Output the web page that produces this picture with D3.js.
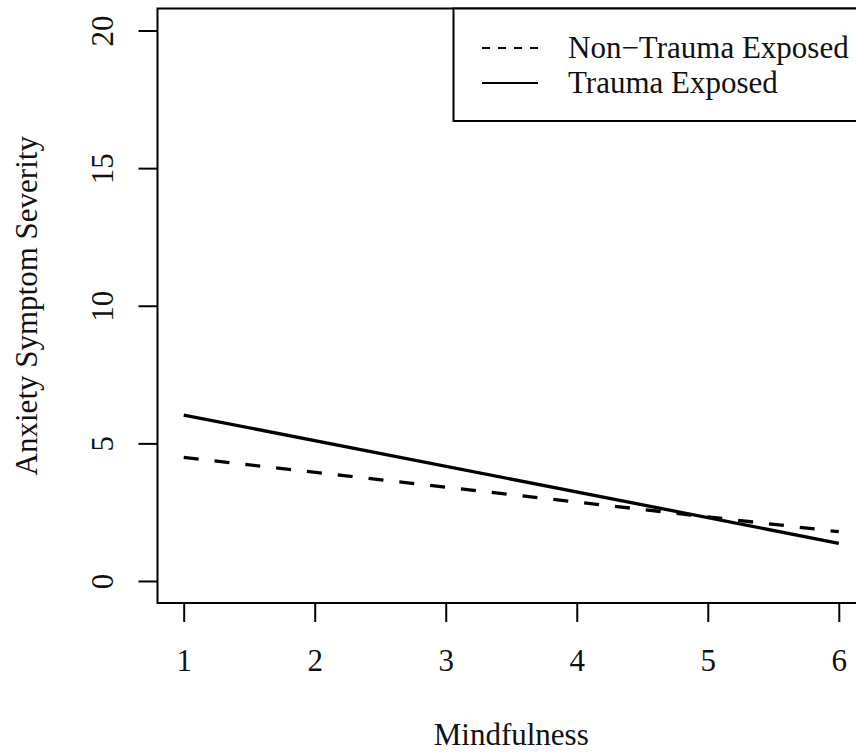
<!DOCTYPE html>
<html lang="en">
<head>
<meta charset="UTF-8">
<title>Anxiety vs Mindfulness</title>
<script src="https://d3js.org/d3.v7.min.js"></script>
<style>
  body { margin: 0; background: #fff; }
  text { font-family: "Liberation Serif", "Times New Roman", serif; fill: #111; }
</style>
</head>
<body>
<svg id="chart" width="856" height="754"></svg>
<script>
// values (fitted lines at the ends of the x range)
const mindfulness = [1, 6];
const nonTrauma = [4.49, 1.79];
const trauma = [6.03, 1.37];
const xTicks = [1, 2, 3, 4, 5, 6];
const yTicks = [0, 5, 10, 15, 20];
const legendLabels = ["Non\u2212Trauma Exposed", "Trauma Exposed"];

const svg = d3.select('#chart');
const fs = 31;

// R style: 4% extension of the data range
const x = d3.scaleLinear().domain([0.8, 6.2]).range([157.5, 865]);
const y = d3.scaleLinear().domain([-0.8, 20.8]).range([603, 8.5]);

const line = d3.line()
    .x((d, i) => x(mindfulness[i]))
    .y(d => y(d));

// series
svg.append('path')
    .datum(nonTrauma)
    .attr('d', line)
    .attr('fill', 'none')
    .attr('stroke', '#000')
    .attr('stroke-width', 3.3)
    .attr('stroke-dasharray', '15,16');

svg.append('path')
    .datum(trauma)
    .attr('d', line)
    .attr('fill', 'none')
    .attr('stroke', '#000')
    .attr('stroke-width', 3.3);

// axes
const xAxis = svg.append('g')
    .attr('transform', `translate(0,${y.range()[0]})`)
    .call(d3.axisBottom(x).tickValues(xTicks).tickFormat(d3.format('d')).tickSize(19).tickSizeOuter(0));
xAxis.select('.domain').remove();
xAxis.selectAll('line').attr('stroke', '#000').attr('stroke-width', 2);
xAxis.selectAll('text')
    .attr('y', 68).attr('dy', null)
    .style('font-size', fs + 'px')
    .attr('fill', '#111');

const yAxis = svg.append('g')
    .attr('transform', `translate(${x.range()[0]},0)`)
    .call(d3.axisLeft(y).tickValues(yTicks).tickFormat(d3.format('d')).tickSize(19).tickSizeOuter(0));
yAxis.select('.domain').remove();
yAxis.selectAll('line').attr('stroke', '#000').attr('stroke-width', 2);
yAxis.selectAll('text')
    .attr('x', 0).attr('y', -45).attr('dy', null)
    .attr('transform', 'rotate(-90)')
    .attr('text-anchor', 'middle')
    .style('font-size', fs + 'px')
    .attr('fill', '#111');

// plot box
svg.append('rect')
    .attr('x', x.range()[0])
    .attr('y', y.range()[1])
    .attr('width', x.range()[1] - x.range()[0])
    .attr('height', y.range()[0] - y.range()[1])
    .attr('fill', 'none')
    .attr('stroke', '#000')
    .attr('stroke-width', 2);

// axis titles
svg.append('text')
    .attr('x', (x.range()[0] + x.range()[1]) / 2)
    .attr('y', 745)
    .attr('text-anchor', 'middle')
    .style('font-size', fs + 'px')
    .text('Mindfulness');

svg.append('text')
    .attr('transform', `translate(37,${(y.range()[0] + y.range()[1]) / 2}) rotate(-90)`)
    .attr('text-anchor', 'middle')
    .style('font-size', fs + 'px')
    .text('Anxiety Symptom Severity');

// legend (top right)
const legend = svg.append('g');
legend.append('rect')
    .attr('x', 453.5)
    .attr('y', y.range()[1])
    .attr('width', x.range()[1] - 453.5)
    .attr('height', 121 - y.range()[1])
    .attr('fill', '#fff')
    .attr('stroke', '#000')
    .attr('stroke-width', 2);

const rows = legend.selectAll('.row')
    .data(legendLabels)
    .enter()
    .append('g')
    .attr('class', 'row')
    .attr('transform', (d, i) => `translate(0,${48 + i * 35})`);

rows.append('line')
    .attr('x1', 482).attr('x2', 538)
    .attr('stroke', '#000')
    .attr('stroke-width', 2)
    .attr('stroke-dasharray', (d, i) => i === 0 ? '8,8' : null);

rows.append('text')
    .attr('x', 568)
    .attr('y', 10)
    .style('font-size', fs + 'px')
    .text(d => d);
</script>
</body>
</html>
